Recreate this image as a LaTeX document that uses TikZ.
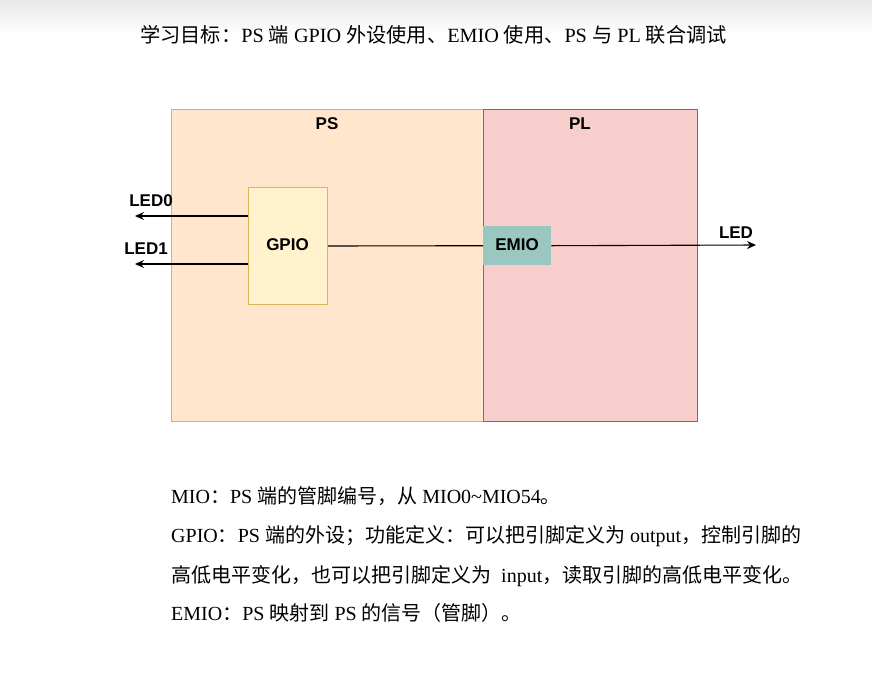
\documentclass[tikz,border=0pt]{standalone}
\usepackage{fontspec}
\setmainfont{Liberation Serif}
\setsansfont{Liberation Sans}
\newfontfamily\cjk{Noto Sans CJK SC}
\newcommand{\zh}[1]{{\cjk #1}}
\usetikzlibrary{arrows.meta}
\definecolor{psfill}{HTML}{FFE6CC}
\definecolor{psline}{HTML}{D9B065}
\definecolor{plfill}{HTML}{F8CECC}
\definecolor{plline}{HTML}{B85450}
\definecolor{gpiofill}{HTML}{FFF2CC}
\definecolor{gpioline}{HTML}{D6B656}
\definecolor{emiofill}{HTML}{9AC7BF}
\tikzset{
  blk/.style={font=\sffamily\bfseries\fontsize{17}{19}\selectfont, inner sep=0pt},
  wire/.style={draw=black, line width=1.1pt},
  arr/.style={wire, -{Stealth[length=9pt,width=8pt,inset=3pt]}},
  body/.style={font=\fontsize{20}{24}\selectfont, anchor=west, inner sep=0pt},
}
\begin{document}
\begin{tikzpicture}[x=1pt,y=-1pt]
\useasboundingbox (0,0) rectangle (872,689);
\shade[top color=black!9, bottom color=white] (0,0) rectangle (872,34);
% regions
\node[draw=psline, fill=psfill, line width=1pt, minimum width=312pt, minimum height=312pt, anchor=north west, inner sep=0pt] (ps) at (171,109) {};
\node[draw=plline, fill=plfill, line width=1pt, minimum width=214pt, minimum height=312pt, anchor=north west, inner sep=0pt] (pl) at (483,109) {};
\node[blk] (pslab) at (327,124) {PS};
\node[blk] (pllab) at (580,124) {PL};
% blocks
\node[draw=gpioline, fill=gpiofill, line width=1pt, minimum width=79pt, minimum height=117pt, anchor=north west, inner sep=0pt] (gpio) at (248,187) {};
\node[blk] (gpiolab) at (287.5,245) {GPIO};
\node[fill=emiofill, minimum width=68pt, minimum height=39pt, anchor=north west, inner sep=0pt] (emio) at (483,226) {};
\node[blk] (emiolab) at (517,245) {EMIO};
% coordinates
\coordinate (g0) at (248,216);
\coordinate (g1) at (248,264);
\coordinate (l0) at (135,216);
\coordinate (l1) at (135,264);
\coordinate (lo) at (756,245);
\draw[arr] (g0) -- (l0);
\draw[arr] (g1) -- (l1);
\draw[wire] (gpio.east) -- (emio.west);
\draw[arr] (emio.east) -- (lo);
\node[blk] (led0) at (151,201) {LED0};
\node[blk] (led1) at (146,249) {LED1};
\node[blk] (led) at (736,233) {LED};
% title
\node[font=\fontsize{20.2}{24}\selectfont, inner sep=0pt] (title) at (433.5,35) {\zh{学习目标：}PS \zh{端} GPIO \zh{外设使用、}EMIO \zh{使用、}PS \zh{与} PL \zh{联合调试}};
% notes
\node[body] (n1) at (171,496) {MIO\zh{：}PS \zh{端的管脚编号，从} MIO0\textasciitilde MIO54\zh{。}};
\node[body] (n2) at (171,536) {GPIO\zh{：}PS \zh{端的外设；功能定义：可以把引脚定义为} output\zh{，控制引脚的}};
\node[body] (n3) at (171,576) {\zh{高低电平变化，也可以把引脚定义为}\ \ input\zh{，读取引脚的高低电平变化。}};
\node[body] (n4) at (171,613) {EMIO\zh{：}PS \zh{映射到} PS \zh{的信号（管脚）。}};
\end{tikzpicture}
\end{document}
